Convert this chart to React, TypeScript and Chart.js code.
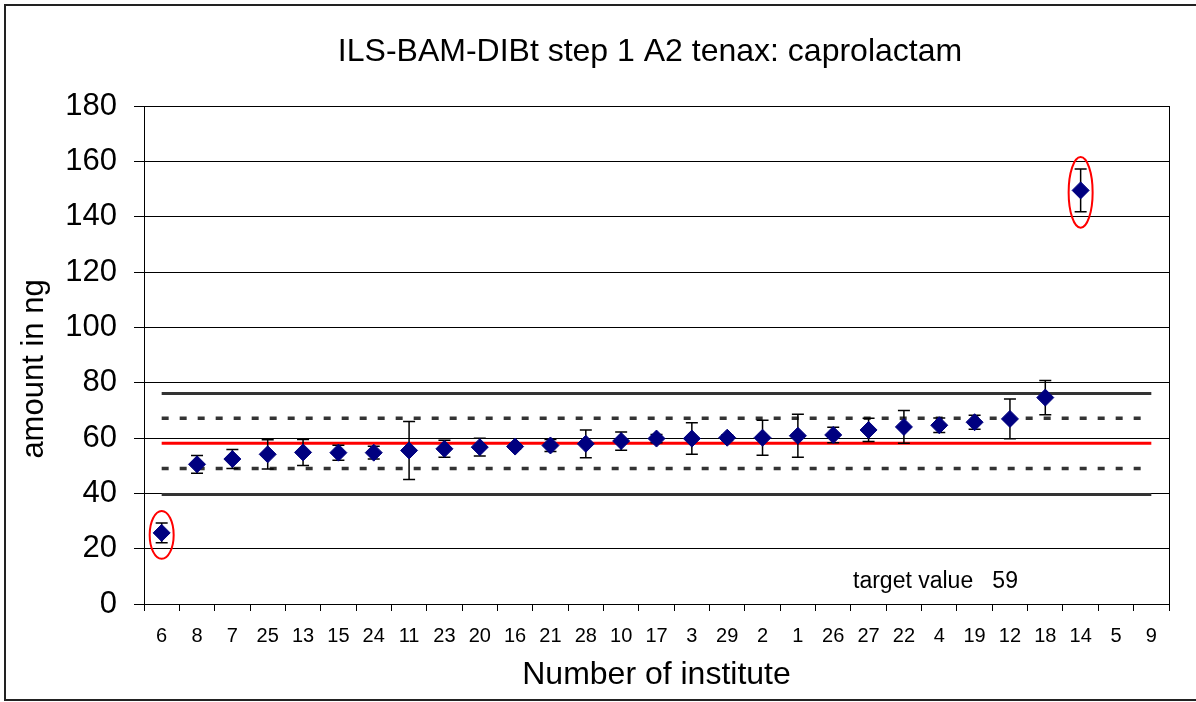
import React, { useEffect, useRef } from 'react';
import { Chart, registerables } from 'chart.js';

Chart.register(...registerables);

const FONT = '"Liberation Sans", Arial, Helvetica, sans-serif';

const titleText = 'ILS-BAM-DIBt step 1 A2 tenax: caprolactam';
const xAxisTitle = 'Number of institute';
const yAxisTitle = 'amount in ng';
const targetLabel = 'target value   59';

const institutes = ['6', '8', '7', '25', '13', '15', '24', '11', '23', '20', '16', '21', '28', '10', '17', '3', '29', '2', '1', '26', '27', '22', '4', '19', '12', '18', '14', '5', '9'];
const means = [25.7, 50.5, 52.4, 54.1, 54.8, 54.7, 54.7, 55.5, 56.1, 56.7, 56.9, 57.3, 57.9, 58.9, 59.8, 59.8, 60.1, 60.1, 60.8, 61.1, 62.9, 64.0, 64.6, 65.7, 66.9, 74.6, 149.5, null, null];
const errors = [3.6, 3.2, 3.4, 5.3, 4.7, 2.7, 2.3, 10.5, 3.1, 3.2, 1.0, 2.2, 5.0, 3.3, 1.5, 5.7, 1.0, 6.3, 7.8, 2.8, 4.2, 5.9, 2.6, 2.5, 7.2, 6.2, 7.7, null, null];
const outliers = ['6', '14'];

const targetValue = 58.1;
const innerLimits = [49.0, 67.1];
const outerLimits = [39.6, 76.1];
const targetLabelLevel = 8;

const yMin = 0;
const yMax = 180;
const yStep = 20;

const decorPlugin = {
  id: 'decor',
  beforeDraw(chart: any) {
    const ctx = chart.ctx;
    ctx.save();
    ctx.fillStyle = '#ffffff';
    ctx.fillRect(0, 0, chart.width, chart.height);
    ctx.strokeStyle = '#222222';
    ctx.lineWidth = 2;
    ctx.strokeRect(5, 5, chart.width + 20, chart.height - 7);
    ctx.restore();
  },
  beforeDatasetDraw(chart: any, args: any) {
    if (args.index !== 0) return;
    const ctx = chart.ctx;
    const meta = chart.getDatasetMeta(0);
    const ys = chart.scales.y;
    ctx.save();
    ctx.strokeStyle = '#000000';
    ctx.lineWidth = 1.5;
    means.forEach((m, i) => {
      const e = errors[i];
      if (m == null || e == null) return;
      const x = meta.data[i].x;
      const y1 = ys.getPixelForValue(m + e);
      const y2 = ys.getPixelForValue(m - e);
      ctx.beginPath();
      ctx.moveTo(x, y1);
      ctx.lineTo(x, y2);
      ctx.moveTo(x - 6, y1);
      ctx.lineTo(x + 6, y1);
      ctx.moveTo(x - 6, y2);
      ctx.lineTo(x + 6, y2);
      ctx.stroke();
    });
    ctx.restore();
  },
  afterDatasetsDraw(chart: any) {
    const ctx = chart.ctx;
    const meta = chart.getDatasetMeta(0);
    const ys = chart.scales.y;
    const area = chart.chartArea;
    ctx.save();
    // right border of plot area
    ctx.strokeStyle = '#000000';
    ctx.lineWidth = 1;
    ctx.beginPath();
    ctx.moveTo(Math.round(area.right) + 0.5, area.top);
    ctx.lineTo(Math.round(area.right) + 0.5, area.bottom);
    ctx.stroke();
    // outlier ellipses
    ctx.strokeStyle = '#ff0000';
    ctx.lineWidth = 2;
    outliers.forEach((name) => {
      const i = institutes.indexOf(name);
      const m = means[i];
      const e = errors[i] ?? 0;
      if (i < 0 || m == null) return;
      const x = meta.data[i].x;
      const yc = ys.getPixelForValue(m) + 2;
      const ry = (ys.getPixelForValue(m - e) - ys.getPixelForValue(m + e)) / 2 + 14;
      ctx.beginPath();
      ctx.ellipse(x, yc, 12, ry, 0, 0, Math.PI * 2);
      ctx.stroke();
    });
    // target value label
    ctx.fillStyle = '#000000';
    ctx.font = `23px ${FONT}`;
    ctx.textAlign = 'left';
    ctx.textBaseline = 'middle';
    ctx.fillText(targetLabel, area.left + 709, ys.getPixelForValue(targetLabelLevel));
    // chart title
    ctx.font = `32px ${FONT}`;
    ctx.textAlign = 'center';
    ctx.fillText(titleText, 650, 52);
    // y axis title
    ctx.translate(34, 369);
    ctx.rotate(-Math.PI / 2);
    ctx.font = `31px ${FONT}`;
    ctx.fillText(yAxisTitle, 0, 0);
    ctx.restore();
  },
};

const constLine = (v: number) => institutes.map(() => v);

export default function App() {
  const canvasRef = useRef<HTMLCanvasElement | null>(null);

  useEffect(() => {
    const canvas = canvasRef.current;
    if (!canvas) return;
    const refLine = (v: number, color: string, dash: number[], width: number) => ({
      data: constLine(v),
      borderColor: color,
      backgroundColor: color,
      borderWidth: width,
      borderDash: dash,
      borderCapStyle: 'butt',
      pointRadius: 0,
      fill: false,
      tension: 0,
    });
    const chart = new Chart(canvas, {
      type: 'line',
      data: {
        labels: institutes,
        datasets: [
          {
            data: means,
            showLine: false,
            pointStyle: 'rectRot',
            pointRadius: 8.5,
            pointBorderWidth: 1,
            pointBackgroundColor: '#000080',
            pointBorderColor: '#000080',
            borderColor: '#000080',
            backgroundColor: '#000080',
          } as any,
          refLine(targetValue, '#ff0000', [], 3),
          refLine(innerLimits[0], '#333333', [7, 11], 3.5),
          refLine(innerLimits[1], '#333333', [7, 11], 3.5),
          refLine(outerLimits[0], '#333333', [], 3),
          refLine(outerLimits[1], '#333333', [], 3),
        ],
      },
      options: {
        responsive: false,
        animation: false,
        events: [],
        layout: { padding: { top: 106, right: 27, bottom: 0, left: 0 } },
        plugins: {
          legend: { display: false },
          tooltip: { enabled: false },
          title: { display: false },
        },
        scales: {
          x: {
            type: 'category',
            offset: true,
            grid: { offset: true, drawOnChartArea: false, drawTicks: true, tickLength: 7, color: '#000000', lineWidth: 1 },
            border: { display: true, color: '#000000', width: 1 },
            ticks: { font: { family: FONT, size: 20 }, color: '#000000', padding: 13, autoSkip: false, maxRotation: 0 },
            title: {
              display: true,
              text: xAxisTitle,
              color: '#000000',
              font: { family: FONT, size: 32, lineHeight: 1.2 },
              padding: { top: 8, bottom: 8 },
            },
            afterFit(scale: any) {
              scale.height = 98;
            },
          },
          y: {
            min: yMin,
            max: yMax,
            ticks: { stepSize: yStep, font: { family: FONT, size: 31 }, color: '#000000', padding: 17 },
            grid: { color: '#000000', lineWidth: 1, drawTicks: true, tickLength: 10 },
            border: { display: true, color: '#000000', width: 1 },
            title: { display: false },
            afterFit(scale: any) {
              scale.width = 144;
            },
          },
        },
      } as any,
      plugins: [decorPlugin],
    });
    return () => chart.destroy();
  }, []);

  return (
    <div style={{ position: 'absolute', left: 0, top: 0, width: 1196, height: 702 }}>
      <canvas ref={canvasRef} width={1196} height={702} style={{ display: 'block' }} />
    </div>
  );
}
